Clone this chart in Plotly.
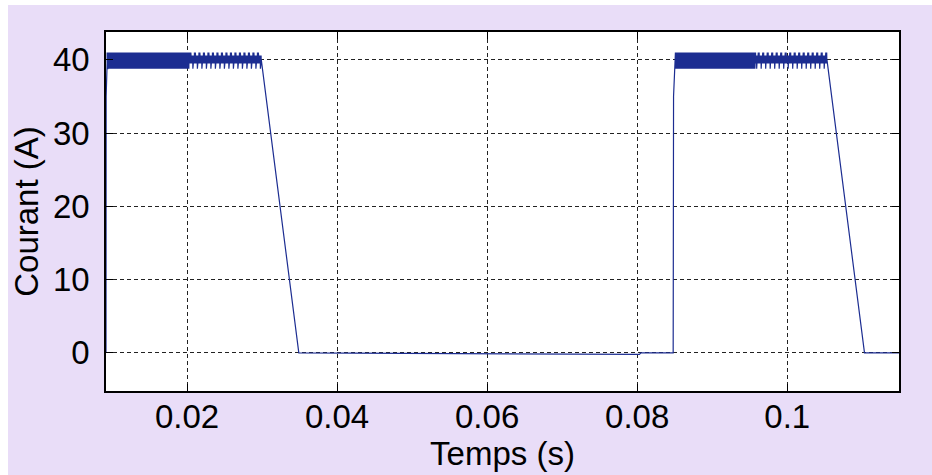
import plotly.graph_objects as go

# ---- data -----------------------------------------------------------------
# Envelope of the current (time in s, current in A) outside the regulated plateaus
rise1_t = [0.0092, 0.00922, 0.00935]
rise1_i = [0.0, 35.0, 39.5]

fall1_t = [0.0299, 0.0349]
fall1_i = [40.0, 0.0]

off_t = [0.0349, 0.0580, 0.0803, 0.0805, 0.0848, 0.08485, 0.0851]
off_i = [0.0, -0.05, -0.2, 0.0, 0.0, 35.0, 39.5]

fall2_t = [0.1053, 0.1103, 0.1150]
fall2_i = [40.0, 0.0, 0.0]

# Regulated plateaus: start, end of the fine ripple, end of plateau (s)
plateau_start = [0.00935, 0.0851]
plateau_fine_end = [0.0203, 0.0958]
plateau_end = [0.0299, 0.1053]

# Hysteresis band (A) and switching half-period (s)
band_high = 41.0
band_low = 38.8
inner_high = 40.6
inner_low = 39.5
half_period = 0.00003
cycles_per_spike = 10

x_ticks = [0.02, 0.04, 0.06, 0.08, 0.1]
x_tick_text = ["0.02", "0.04", "0.06", "0.08", "0.1"]
y_ticks = [0, 10, 20, 30, 40]


def plateau(t0, t_fine, t1):
    ts, vs = [], []
    n = int(round((t1 - t0) / half_period))
    for k in range(n + 1):
        t = t0 + k * half_period
        up = (k % 2 == 0)
        cyc = k // 2
        if t < t_fine:
            v = band_high if up else band_low
        else:
            if up:
                v = band_high if cyc % cycles_per_spike in (4, 5, 6) else inner_high
            else:
                v = band_low if cyc % cycles_per_spike == 0 else inner_low
        ts.append(t)
        vs.append(v)
    return ts, vs


p1_t, p1_i = plateau(plateau_start[0], plateau_fine_end[0], plateau_end[0])
p2_t, p2_i = plateau(plateau_start[1], plateau_fine_end[1], plateau_end[1])

t = rise1_t + p1_t + fall1_t + off_t + p2_t + fall2_t
i = rise1_i + p1_i + fall1_i + off_i + p2_i + fall2_i

# ---- figure ---------------------------------------------------------------
FONT = "Liberation Sans, Arial, Helvetica, sans-serif"
LAVENDER = "#E9DDF8"

fig = go.Figure()
fig.add_trace(go.Scatter(
    x=t, y=i, mode="lines",
    line=dict(color="rgb(28,45,145)", width=1.2),
    hoverinfo="skip", showlegend=False,
))

axis_common = dict(
    showline=True, linecolor="black", linewidth=1.5, mirror="ticks",
    ticks="inside", ticklen=7, tickwidth=1.2, tickcolor="black",
    showgrid=True, gridcolor="#222222", gridwidth=1, griddash="4px,3px",
    zeroline=False, automargin=False,
    tickfont=dict(family=FONT, size=33, color="black"),
)

fig.update_layout(
    width=932, height=475,
    margin=dict(l=106, r=33, t=32, b=84),
    paper_bgcolor=LAVENDER,
    plot_bgcolor="white",
    font=dict(family=FONT, color="black"),
    xaxis=dict(
        range=[0.0092, 0.1149], tickvals=x_ticks, ticktext=x_tick_text,
        title=dict(text="Temps (s)", font=dict(family=FONT, size=33), standoff=2),
        ticklabelstandoff=-4,
        **axis_common,
    ),
    yaxis=dict(
        range=[-5.2, 43.8], tickvals=y_ticks,
        title=dict(text="Courant (A)", font=dict(family=FONT, size=33), standoff=4),
        ticklabelstandoff=8,
        **axis_common,
    ),
    shapes=[
        # thin white border of the figure window (top and left)
        dict(type="rect", xref="paper", yref="paper", layer="above",
             x0=-0.2, x1=(8 - 106) / 793, y0=-0.3, y1=1.2,
             fillcolor="white", line=dict(width=0)),
        dict(type="rect", xref="paper", yref="paper", layer="above",
             x0=-0.2, x1=1.1, y0=(391 - 5) / 359, y1=1.2,
             fillcolor="white", line=dict(width=0)),
    ],
)

fig.write_html("out.html")
